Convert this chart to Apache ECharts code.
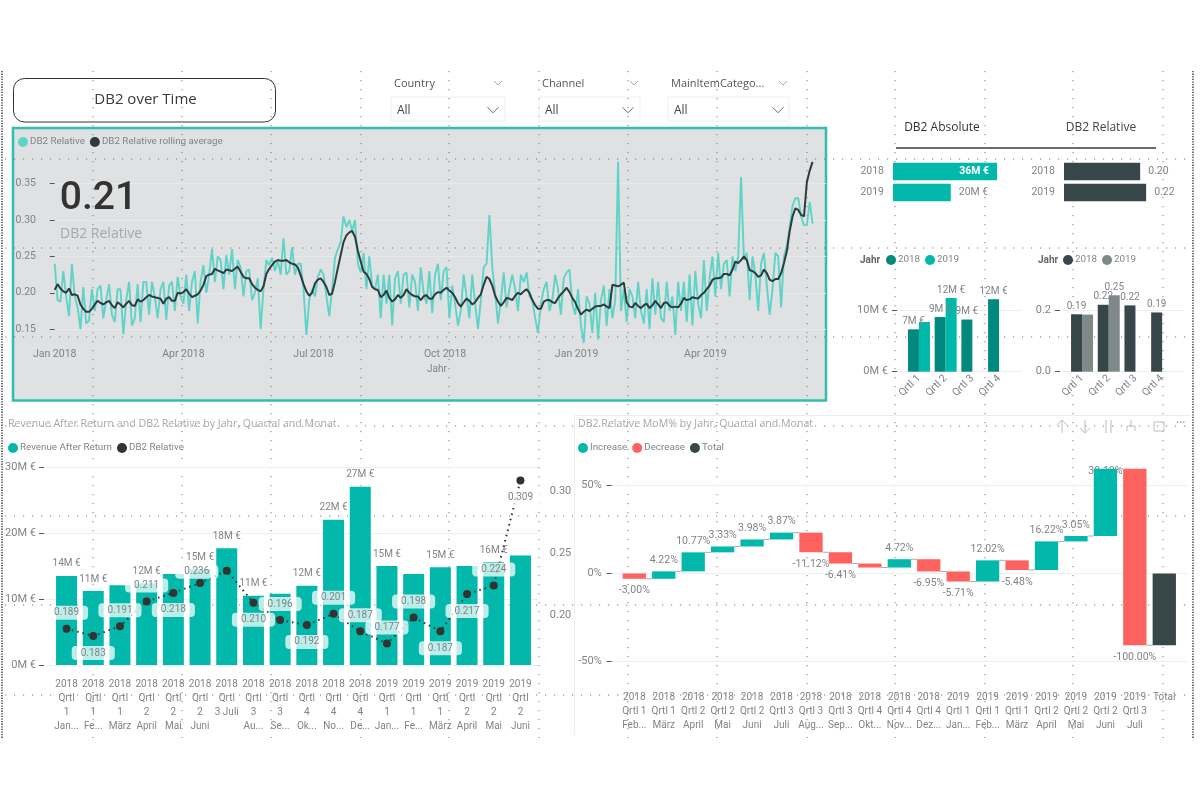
<!DOCTYPE html>
<html>
<head>
<meta charset="utf-8">
<title>DB2 over Time</title>
<style>
  html, body { margin: 0; background: #fff; }
  #main { width: 1200px; height: 800px; }
</style>
<script src="https://cdn.jsdelivr.net/npm/echarts@6/dist/echarts.min.js"></script>
</head>
<body>
<div id="main"></div>
<script>
// daily chart, one reading every second day from 1 Jan 2018
var relativeValues = [
  .240,.190,.188,.230,.195,.168,.240,.195,.180,.150, .208,.158,.162,.205,.175,.205,.210,.165,.190,.212,
  .170,.160,.205,.205,.143,.190,.215,.155,.165,.212, .160,.215,.215,.170,.215,.195,.165,.205,.215,.163,
  .210,.215,.175,.222,.195,.185,.225,.175,.215,.230, .158,.215,.238,.200,.225,.260,.215,.250,.245,.205,
  .252,.225,.260,.205,.245,.235,.195,.230,.232,.190, .200,.220,.150,.205,.245,.238,.248,.230,.245,.225,
  .275,.225,.230,.263,.225,.240,.240,.205,.142,.190, .205,.195,.222,.232,.225,.195,.168,.205,.248,.260,
  .270,.305,.290,.300,.285,.300,.240,.228,.255,.205, .250,.210,.205,.225,.165,.225,.185,.225,.155,.220,
  .230,.185,.225,.228,.180,.225,.215,.175,.235,.200, .185,.230,.172,.225,.240,.190,.230,.235,.165,.210,
  .185,.155,.175,.225,.195,.165,.225,.185,.150,.190, .235,.240,.307,.235,.200,.158,.190,.228,.180,.205,
  .225,.205,.175,.225,.215,.228,.195,.190,.165,.145, .185,.205,.215,.175,.190,.225,.205,.170,.220,.228,
  .232,.185,.170,.205,.155,.131,.195,.185,.145,.200, .136,.190,.210,.155,.205,.165,.190,.380,.175,.205,
  .160,.205,.195,.165,.215,.175,.158,.205,.150,.220, .170,.215,.165,.160,.215,.175,.195,.142,.215,.175,
  .215,.160,.225,.155,.230,.185,.165,.245,.175,.220, .250,.195,.255,.205,.240,.245,.195,.250,.230,.250,
  .359,.245,.255,.190,.250,.225,.175,.240,.255,.210, .170,.205,.255,.250,.180,.250,.265,.290,.320,.330,
  .330,.305,.293,.293,.325,.295
];
var rollingValues = [
  .204,.212,.206,.202,.200,.206,.197,.198,.196,.184, .178,.174,.174,.178,.184,.189,.186,.184,.187,.189,
  .183,.179,.187,.184,.180,.185,.189,.183,.182,.191, .188,.190,.194,.197,.195,.194,.193,.192,.185,.192,
  .194,.189,.189,.200,.199,.201,.205,.199,.194,.196, .198,.203,.211,.223,.225,.226,.233,.231,.229,.227,
  .232,.231,.230,.233,.236,.229,.222,.220,.220,.212, .207,.204,.202,.209,.226,.233,.238,.243,.245,.244,
  .244,.245,.242,.240,.239,.235,.224,.212,.202,.196, .200,.213,.218,.220,.215,.208,.197,.199,.215,.234,
  .252,.270,.279,.283,.285,.277,.258,.243,.229,.226, .219,.208,.205,.204,.194,.197,.203,.193,.188,.191,
  .197,.193,.197,.205,.200,.197,.195,.195,.190,.195, .197,.192,.192,.198,.201,.200,.204,.207,.203,.200,
  .194,.186,.181,.187,.192,.189,.184,.187,.193,.198, .211,.222,.219,.210,.196,.188,.182,.187,.193,.192,
  .190,.196,.200,.198,.202,.205,.200,.190,.183,.178, .178,.188,.190,.190,.187,.186,.193,.198,.202,.207,
  .201,.193,.187,.178,.170,.174,.177,.175,.178,.181, .182,.182,.184,.181,.179,.211,.210,.209,.211,.214,
  .187,.181,.180,.186,.182,.179,.183,.185,.179,.183, .189,.184,.179,.186,.187,.182,.180,.181,.180,.185,
  .193,.190,.191,.194,.193,.192,.197,.200,.205,.210, .218,.220,.220,.221,.226,.226,.224,.232,.243,.241,
  .245,.250,.245,.231,.230,.227,.222,.224,.232,.227, .218,.216,.219,.219,.227,.241,.257,.285,.305,.316,
  .314,.307,.305,.352,.368,.380
];
// days since 1 Jan 2018 of the labelled quarter starts
var quarterDays = [0, 90, 181, 273, 365, 455];
var quarterNames = ['Jan 2018', 'Apr 2018', 'Jul 2018', 'Oct 2018', 'Jan 2019', 'Apr 2019'];

// small year bars
var years = ['2018', '2019'];
var absoluteYear = [36, 20];
var absoluteYearLabels = ['36M €', '20M €'];
var relativeYear = [0.204, 0.22];
var relativeYearLabels = ['0.20', '0.22'];

// quarter columns
var quarters = ['Qrtl 1', 'Qrtl 2', 'Qrtl 3', 'Qrtl 4'];
var absolute2018 = [6.9, 8.9, 8.5, 11.8];
var absolute2019 = [8.1, 12.0, null, null];
var absolute2018Labels = ['7M €', '9M €', '9M €', '12M €'];
var absolute2019Labels = ['', '12M €', '', ''];
var relative2018 = [0.187, 0.218, 0.216, 0.193];
var relative2019 = [0.186, 0.249, null, null];
var relative2018Labels = ['0.19', '0.22', '0.22', '0.19'];
var relative2019Labels = ['', '0.25', '', ''];

// revenue by month
var months = [
  '2018\nQrtl\n1\nJan...', '2018\nQrtl\n1\nFe...', '2018\nQrtl\n1\nMärz', '2018\nQrtl\n2\nApril', '2018\nQrtl\n2\nMai', '2018\nQrtl\n2\nJuni',
  '2018\nQrtl\n3 Juli', '2018\nQrtl\n3\nAu...', '2018\nQrtl\n3\nSe...', '2018\nQrtl\n4\nOk...', '2018\nQrtl\n4\nNo...', '2018\nQrtl\n4\nDe...',
  '2019\nQrtl\n1\nJan...', '2019\nQrtl\n1\nFe...', '2019\nQrtl\n1\nMärz', '2019\nQrtl\n2\nApril', '2019\nQrtl\n2\nMai', '2019\nQrtl\n2\nJuni'
];
var revenue = [13.5, 11.2, 12.1, 12.4, 13.8, 14.5, 17.7, 10.5, 10.8, 12.0, 22.0, 27.0, 15.0, 13.8, 14.8, 15.0, 15.6, 16.6];
var revenueLabels = ['14M €', '11M €', '', '12M €', '', '15M €', '18M €', '11M €', '', '12M €', '22M €', '27M €', '15M €', '', '15M €', '', '16M €', ''];
var monthRelative = [0.189, 0.183, 0.191, 0.211, 0.218, 0.226, 0.236, 0.210, 0.196, 0.192, 0.201, 0.187, 0.177, 0.198, 0.187, 0.217, 0.224, 0.309];
var monthRelativeLabels = ['0.189', '0.183', '0.191', '0.211', '0.218', '', '0.236', '0.210', '0.196', '0.192', '0.201', '0.187', '0.177', '0.198', '0.187', '0.217', '0.224', '0.309'];
var monthLabelBelow = [false, true, false, false, true, false, false, true, false, true, false, false, false, false, true, true, false, true];

// month over month waterfall
var stepNames = [
  '2018\nQrtl 1\nFeb...', '2018\nQrtl 1\nMärz', '2018\nQrtl 2\nApril', '2018\nQrtl 2\nMai', '2018\nQrtl 2\nJuni', '2018\nQrtl 3\nJuli',
  '2018\nQrtl 3\nAug...', '2018\nQrtl 3\nSep...', '2018\nQrtl 4\nOkt...', '2018\nQrtl 4\nNov...', '2018\nQrtl 4\nDez...', '2019\nQrtl 1\nJan...',
  '2019\nQrtl 1\nFeb...', '2019\nQrtl 1\nMärz', '2019\nQrtl 2\nApril', '2019\nQrtl 2\nMai', '2019\nQrtl 2\nJuni', '2019\nQrtl 3\nJuli', 'Total'
];
var stepChanges = [-3.00, 4.22, 10.77, 3.33, 3.98, 3.87, -11.12, -6.41, -2.26, 4.72, -6.95, -5.71, 12.02, -5.48, 16.22, 3.05, 38.10, -100.00];
var stepLabels = ['-3.00%', '4.22%', '10.77%', '3.33%', '3.98%', '3.87%', '-11.12%', '-6.41%', '', '4.72%', '-6.95%', '-5.71%', '12.02%', '-5.48%', '16.22%', '3.05%', '38.10%', '-100.00%'];

var fontMain = 'Roboto, "Open Sans", sans-serif';
var fontTitle = '"Open Sans", sans-serif';
var gray = '#808486';
var gridGray = '#eeeeee';
var teal = '#01B8AA';
var darkTeal = '#02897E';
var slate = '#374649';
var slateLight = '#7F898A';
var red = '#FD625E';

var grids = [], xAxes = [], yAxes = [], series = [];

function addGrid(rect, x, y) {
  grids.push(Object.assign({ containLabel: false }, rect));
  x.gridIndex = y.gridIndex = grids.length - 1;
  xAxes.push(x);
  yAxes.push(y);
  return grids.length - 1;
}
function hiddenAxis(extra) {
  return Object.assign({ show: false }, extra);
}
function labelText(names) {
  return function (p) { return names[p.dataIndex] || ''; };
}
var noLine = { show: false };

// ---------- top line chart
function daily(values) {
  return values.map(function (v, i) { return [i * 2, v]; });
}
var lineGrid = addGrid({ left: 48, top: 183.7, width: 778, height: 145.5 }, {
  type: 'value',
  min: -4.7,
  max: 539.4,
  name: 'Jahr',
  nameLocation: 'middle',
  nameGap: 35,
  nameTextStyle: { color: gray, fontSize: 10 },
  axisLine: noLine,
  axisTick: { show: false },
  splitLine: { show: false },
  axisLabel: {
    customValues: quarterDays,
    color: gray,
    fontSize: 10.5,
    margin: 20,
    hideOverlap: false,
    formatter: function (v) { return quarterNames[quarterDays.indexOf(v)]; }
  }
}, {
  type: 'value',
  min: 0.15,
  max: 0.35,
  interval: 0.05,
  axisLine: noLine,
  axisLabel: { color: gray, fontSize: 10.5, margin: 12, formatter: function (v) { return v.toFixed(2); } },
  splitLine: { lineStyle: { color: '#e7e9ea' } }
});
series.push({
  name: 'DB2 Relative', type: 'line', xAxisIndex: lineGrid, yAxisIndex: lineGrid, clip: false,
  showSymbol: false, data: daily(relativeValues), lineStyle: { color: '#5FD3C7', width: 1.9 }, itemStyle: { color: '#5FD3C7' }, z: 3
});
series.push({
  name: 'DB2 Relative rolling average', type: 'line', xAxisIndex: lineGrid, yAxisIndex: lineGrid, clip: false,
  showSymbol: false, data: daily(rollingValues), lineStyle: { color: '#2E3B3E', width: 2 }, itemStyle: { color: '#2E3B3E' }, z: 4
});

// ---------- year bars
function yearBars(left, axisMax, width, values, names, color, insideFirst) {
  var g = addGrid({ left: left, top: 161, width: width, height: 42 },
    hiddenAxis({ type: 'value', min: 0, max: axisMax }),
    {
      type: 'category', inverse: true, data: years,
      axisLine: noLine, axisTick: { show: false },
      axisLabel: { color: gray, fontSize: 10.5, margin: 9 }
    });
  series.push({
    type: 'bar', xAxisIndex: g, yAxisIndex: g, barWidth: 17.5, itemStyle: { color: color },
    data: values.map(function (v, i) {
      var inside = insideFirst && i === 0;
      return {
        value: v,
        label: {
          show: true, formatter: names[i], fontSize: 10.5, distance: 8,
          position: inside ? 'insideRight' : 'right',
          color: inside ? '#fff' : gray,
          fontWeight: inside ? 'bold' : 'normal'
        }
      };
    })
  });
}
yearBars(893, 40, 115.6, absoluteYear, absoluteYearLabels, teal, true);
yearBars(1064, 0.3, 112, relativeYear, relativeYearLabels, slate, false);

// ---------- quarter columns
function quarterColumns(cfg) {
  // backdrop carries the value axis so its lines run past the bars
  addGrid({ left: cfg.lineLeft, top: 248.9, width: cfg.lineWidth, height: 122.8 },
    hiddenAxis({ type: 'value', min: 0, max: 1 }),
    {
      type: 'value', min: 0, max: cfg.max, interval: cfg.max / 2,
      axisLine: noLine,
      axisLabel: { color: gray, fontSize: 11, margin: cfg.lineLeft - cfg.labelRight, showMaxLabel: false, formatter: cfg.tick },
      splitLine: { showMaxLine: false, lineStyle: { color: gridGray } }
    });
  var g = addGrid({ left: cfg.left, top: 248.9, width: 106.8, height: 122.8 }, {
    type: 'category', data: quarters,
    axisLine: noLine, axisTick: { show: false },
    axisLabel: { color: gray, fontSize: 10.5, rotate: 45, margin: 5, interval: 0 }
  }, hiddenAxis({ type: 'value', min: 0, max: cfg.max }));
  [[years[0], cfg.a, cfg.aLabels, cfg.colors[0]], [years[1], cfg.b, cfg.bLabels, cfg.colors[1]]].forEach(function (s) {
    series.push({
      name: s[0], type: 'bar', xAxisIndex: g, yAxisIndex: g, barWidth: 11, barGap: 0,
      data: s[1], itemStyle: { color: s[3] },
      label: { show: true, position: 'top', distance: 3, color: gray, fontSize: 10, formatter: labelText(s[2]) }
    });
  });
}
quarterColumns({
  lineLeft: 897, lineWidth: 125, labelRight: 888, left: 905.6, max: 20,
  tick: function (v) { return v + 'M €'; },
  a: absolute2018, b: absolute2019, aLabels: absolute2018Labels, bLabels: absolute2019Labels, colors: [darkTeal, teal]
});
quarterColumns({
  lineLeft: 1060, lineWidth: 123, labelRight: 1051, left: 1068.7, max: 0.4,
  tick: function (v) { return v.toFixed(1); },
  a: relative2018, b: relative2019, aLabels: relative2018Labels, bLabels: relative2019Labels, colors: [slate, slateLight]
});

// ---------- revenue and relative by month
addGrid({ left: 44, top: 467, width: 494, height: 198 },
  hiddenAxis({ type: 'value', min: 0, max: 1 }),
  {
    type: 'value', min: 0, max: 30, interval: 10,
    axisLine: noLine,
    axisLabel: { color: gray, fontSize: 11, margin: 8, formatter: '{value}M €' },
    splitLine: { lineStyle: { color: gridGray } }
  });
var revenueGrid = addGrid({ left: 53.2, top: 467, width: 480.6, height: 198 }, {
  type: 'category', data: months,
  axisLine: noLine, axisTick: { show: false },
  axisLabel: { color: gray, fontSize: 10, lineHeight: 14, margin: 12, interval: 0, verticalAlign: 'top', hideOverlap: false }
}, hiddenAxis({ type: 'value', min: 0, max: 30 }));
series.push({
  name: 'Revenue After Return', type: 'bar', xAxisIndex: revenueGrid, yAxisIndex: revenueGrid,
  barWidth: 21, data: revenue, itemStyle: { color: teal }, z: 2,
  label: { show: true, position: 'top', distance: 7, color: gray, fontSize: 10, formatter: labelText(revenueLabels) }
});
var monthLineGrid = addGrid({ left: 53.2, top: 430, width: 480.6, height: 246.8 },
  hiddenAxis({ type: 'category', data: months }),
  {
    type: 'value', min: 0.15, max: 0.35, interval: 0.05, position: 'right',
    axisLine: noLine,
    axisLabel: { color: gray, fontSize: 11, margin: 16, showMinLabel: false, showMaxLabel: false, formatter: function (v) { return v.toFixed(2); } },
    splitLine: { show: false }
  });
series.push({
  name: 'DB2 Relative', type: 'line', xAxisIndex: monthLineGrid, yAxisIndex: monthLineGrid, z: 5,
  symbol: 'circle', symbolSize: 8,
  lineStyle: { color: '#333', width: 2, type: [1.5, 4] },
  itemStyle: { color: '#333' },
  data: monthRelative.map(function (v, i) {
    var text = monthRelativeLabels[i];
    var isJuly = i === 6;
    return {
      value: v,
      label: {
        show: !!text, formatter: text, color: gray, fontSize: 10,
        position: monthLabelBelow[i] ? 'bottom' : 'top',
        distance: monthLabelBelow[i] ? 6 : 5,
        offset: isJuly ? [-30, 17] : [0, 0],
        backgroundColor: 'rgba(255,255,255,0.74)', borderRadius: 4, padding: [2, 9]
      }
    };
  })
});

// ---------- waterfall
var stepRows = [];
var running = 0;
stepChanges.forEach(function (d, i) {
  stepRows.push({ kind: d >= 0 ? 'Increase' : 'Decrease', from: running, to: running + d, label: stepLabels[i] });
  running += d;
});
stepRows.push({ kind: 'Total', from: 0, to: running, label: '' });
var labelBehindBar = 16; // June 2019

function renderStep(params, api) {
  var i = api.value(0);
  var row = stepRows[i];
  var a = api.coord([i, row.from]);
  var b = api.coord([i, row.to]);
  var band = api.size([1, 0])[0];
  var w = 23.3;
  var top = Math.min(a[1], b[1]), bottom = Math.max(a[1], b[1]);
  var children = [];
  if (row.label) {
    // drawn first: the June label sits behind its own bar, as in the source
    var labelY = row.to >= row.from ? top - 11 : bottom + 12;
    if (i === labelBehindBar) labelY = top + 3;
    children.push({
      type: 'text',
      style: {
        x: a[0], y: labelY,
        text: row.label, fill: gray, fontSize: 10.5, fontFamily: fontMain, align: 'center', verticalAlign: 'middle'
      }
    });
  }
  children.push({ type: 'rect', shape: { x: a[0] - w / 2, y: top, width: w, height: bottom - top }, style: api.style() });
  if (i < stepRows.length - 1) {
    children.push({
      type: 'line',
      shape: { x1: a[0] + w / 2, y1: b[1], x2: a[0] + band - w / 2, y2: b[1] },
      style: { stroke: '#aaaaaa', lineWidth: 1 }
    });
  }
  return { type: 'group', children: children };
}
addGrid({ left: 611.7, top: 485.3, width: 575, height: 176.4 },
  hiddenAxis({ type: 'value', min: 0, max: 1 }),
  {
    type: 'value', min: -50, max: 50, interval: 50,
    axisLine: noLine,
    axisLabel: { color: gray, fontSize: 11, margin: 10, formatter: '{value}%' },
    splitLine: { lineStyle: { color: gridGray } }
  });
var stepGrid = addGrid({ left: 619.6, top: 485.3, width: 559.4, height: 176.4 }, {
  type: 'category', data: stepNames,
  axisLine: noLine, axisTick: { show: false },
  axisLabel: { color: gray, fontSize: 10, lineHeight: 14, margin: 29, interval: 0, verticalAlign: 'top', hideOverlap: false }
}, hiddenAxis({ type: 'value', min: -50, max: 50 }));
[['Increase', teal], ['Decrease', red], ['Total', slate]].forEach(function (s) {
  var data = [];
  stepRows.forEach(function (r, i) {
    if (r.kind === s[0]) data.push([i, r.from, r.to]);
  });
  series.push({
    name: s[0], type: 'custom', xAxisIndex: stepGrid, yAxisIndex: stepGrid, clip: false, z: 3,
    itemStyle: { color: s[1] }, renderItem: renderStep, encode: { x: 0, y: [1, 2] }, data: data
  });
});

// ---------- legends
function legend(left, top, items) {
  return {
    left: left, top: top, padding: 0, itemGap: 5, itemWidth: 10, itemHeight: 10, icon: 'circle',
    selectedMode: false, textStyle: { color: gray, fontSize: 9.8, padding: [0, 0, 0, -3] },
    data: items.map(function (it) { return { name: it[0], itemStyle: { color: it[1] } }; })
  };
}

// ---------- page furniture
var shapes = [];
function text(x, y, t, size, color, extra) {
  shapes.push({
    type: 'text', z: 20, silent: true,
    style: Object.assign({ x: x, y: y, text: t, fontSize: size, fill: color, fontFamily: fontTitle, verticalAlign: 'middle' }, extra || {})
  });
}
function stroke(points, color, width, dash, z) {
  shapes.push({
    type: 'polyline', z: z === undefined ? 20 : z, silent: true,
    shape: { points: points },
    style: { stroke: color, lineWidth: width, fill: null, lineDash: dash || null }
  });
}
function chevron(x, y, r, color) {
  stroke([[x - r, y - r / 2], [x, y + r / 2], [x + r, y - r / 2]], color, 1);
}

shapes.push({ type: 'rect', z: -10, silent: true, shape: { x: 13, y: 128, width: 813, height: 272.5 }, style: { fill: '#DFE1E2', stroke: '#2FBFB1', lineWidth: 2.5 } });

// report canvas dots
[159, 248, 337, 426, 516, 605, 695].forEach(function (y) {
  stroke([[5, y], [1193, y]], '#777', 1, [1.2, 7.8], -9);
});
[93, 182, 271, 361, 449, 539, 628, 717, 807, 895, 985, 1073, 1163].forEach(function (x) {
  stroke([[x, 71], [x, 738]], '#777', 1, [1.2, 7.8], -9);
});
stroke([[2, 71], [2, 738]], '#333', 1.4, [1.3, 1.3], -9);
stroke([[1193, 71], [1193, 738]], '#333', 1.4, [1.3, 1.3], -9);

// title button
shapes.push({ type: 'rect', z: 15, silent: true, shape: { x: 13.5, y: 78.5, width: 262, height: 43.5, r: 11 }, style: { fill: null, stroke: '#333', lineWidth: 1 } });
text(145.5, 100, 'DB2 over Time', 15, '#3a3a3a', { align: 'center' });

// slicers
[[391, 114, 'Country', 498, 493], [539, 101, 'Channel', 634, 628], [668, 121, 'MainItemCatego...', 783, 778]].forEach(function (s) {
  text(s[0] + 3, 83.5, s[2], 11, '#555');
  chevron(s[3], 83, 4, '#aaa');
  shapes.push({ type: 'rect', z: 15, silent: true, shape: { x: s[0], y: 97, width: s[1], height: 24 }, style: { fill: null, stroke: '#eeeeee', lineWidth: 1 } });
  text(s[0] + 6, 111, 'All', 12, '#444');
  chevron(s[4], 110, 5.5, '#666');
});

// big number
text(98.5, 199, '0.21', 39, '#333', { align: 'center', fontFamily: fontMain, fontWeight: 500 });
text(60, 234, 'DB2 Relative', 14, '#a5a8a9');

// tabs
text(942, 128, 'DB2 Absolute', 12, '#333', { align: 'center' });
text(1101, 128, 'DB2 Relative', 12, '#444', { align: 'center' });
stroke([[896, 148], [1156, 148]], '#3a3a3a', 1.4);

// legend captions and visual titles
text(860, 260, 'Jahr', 10, '#666', { fontWeight: 'bold', fontFamily: fontMain });
text(1038, 260, 'Jahr', 10, '#666', { fontWeight: 'bold', fontFamily: fontMain });
text(8, 424, 'Revenue After Return and DB2 Relative by Jahr, Quartal and Monat', 10.6, '#a9a9a9');
text(578, 424, 'DB2 Relative MoM% by Jahr, Quartal and Monat', 10.6, '#a9a9a9');

// hover frame of the waterfall visual and its header icons
stroke([[574.5, 735], [574.5, 415.5], [1190, 415.5]], '#eeeeee', 1, null, -8);
var iconGray = '#bdbdbd';
stroke([[1062, 433], [1062, 420]], iconGray, 1);
stroke([[1057, 425], [1062, 420], [1067, 425]], iconGray, 1);
stroke([[1085, 420], [1085, 433]], iconGray, 1);
stroke([[1080, 428], [1085, 433], [1090, 428]], iconGray, 1);
stroke([[1106, 420], [1106, 433]], iconGray, 1);
stroke([[1111, 420], [1111, 433]], iconGray, 1);
stroke([[1131, 420], [1131, 426]], iconGray, 1);
stroke([[1127, 431], [1127, 426], [1135, 426], [1135, 431]], iconGray, 1);
shapes.push({ type: 'rect', z: 20, silent: true, shape: { x: 1154, y: 422, width: 10, height: 9 }, style: { fill: null, stroke: iconGray, lineWidth: 1 } });
text(1176, 424, '···', 12, '#999');

var chart = echarts.init(document.getElementById('main'));
chart.setOption({
  animation: false,
  backgroundColor: '#ffffff',
  textStyle: { fontFamily: fontMain },
  grid: grids,
  xAxis: xAxes,
  yAxis: yAxes,
  series: series,
  legend: [
    legend(18, 137, [['DB2 Relative', '#5FD3C7'], ['DB2 Relative rolling average', '#2E3B3E']]),
    legend(8, 443, [['Revenue After Return', teal], ['DB2 Relative', '#333']]),
    legend(578, 443, [['Increase', teal], ['Decrease', red], ['Total', slate]]),
    legend(886, 255, [['2018', darkTeal], ['2019', teal]]),
    legend(1063, 255, [['2018', slate], ['2019', slateLight]])
  ],
  graphic: { elements: shapes }
});
</script>
</body>
</html>
